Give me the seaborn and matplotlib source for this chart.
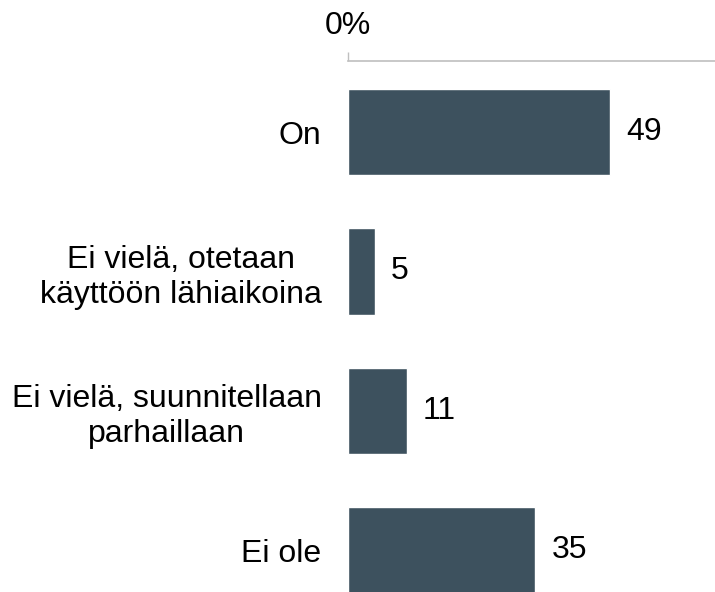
import pandas as pd
import matplotlib.pyplot as plt
import seaborn as sns

# Kategoriat ja arvot (%)
categories = ['On', 'Ei vielä, otetaan\nkäyttöön lähiaikoina', 'Ei vielä, suunnitellaan\nparhaillaan', 'Ei ole']
values = [49, 5, 11, 35]

df = pd.DataFrame({'vastaus': categories, 'osuus': values})

sns.set_style('white')
plt.rcParams['font.family'] = ['Liberation Sans', 'DejaVu Sans']
plt.rcParams['text.color'] = 'black'
plt.rcParams['xtick.labelcolor'] = 'black'
plt.rcParams['ytick.labelcolor'] = 'black'

FS = 23

fig = plt.figure(figsize=(7.15, 5.92), dpi=100)
ax = fig.add_axes([0.4867, 0.0, 0.5133, 0.897])

sns.barplot(data=df, x='osuus', y='vastaus', color='#3d515e', saturation=1,
            width=0.62, orient='h', ax=ax)

ax.set_xlim(0, 68.6)
ax.set_ylim(3.30, -0.51)

# Arvot palkkien perään
for i, v in enumerate(values):
    ax.text(v + 3.0, i, str(v), va='center', ha='left', fontsize=FS, color='black')

# x-akseli ylhäällä, vain 0%
ax.xaxis.tick_top()
ax.set_xticks([0])
ax.set_xticklabels(['0%'], fontsize=FS)
ax.tick_params(axis='x', length=6.5, width=1, color='#bfbfbf', pad=8)
ax.tick_params(axis='y', length=0, pad=19)
for lbl in ax.get_yticklabels():
    lbl.set_fontsize(FS)
    lbl.set_multialignment('center')

for s in ['bottom', 'right', 'left']:
    ax.spines[s].set_visible(False)
ax.spines['top'].set_color('#bfbfbf')
ax.spines['top'].set_linewidth(1.2)

ax.set_xlabel('')
ax.set_ylabel('')

fig.savefig('out.png', dpi=100)
